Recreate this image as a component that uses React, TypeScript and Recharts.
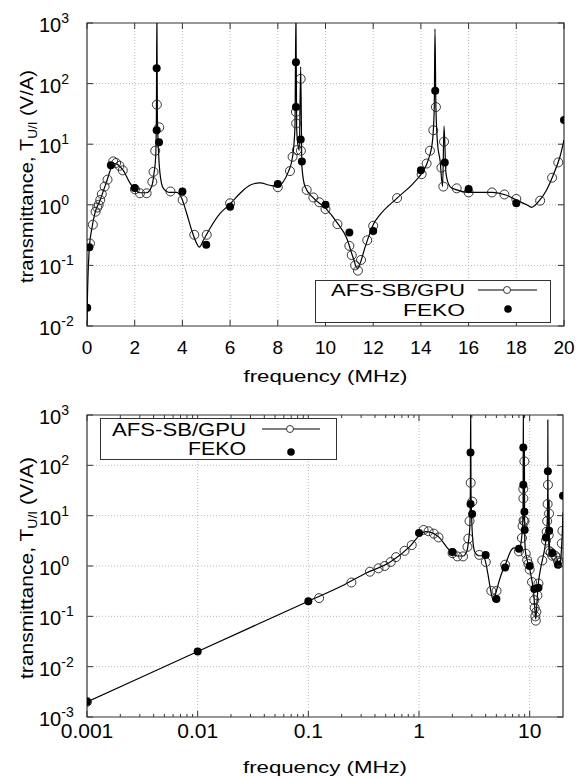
import { ComposedChart, Line, Scatter, XAxis, YAxis, ReferenceLine, ReferenceArea, Legend, Label } from "recharts"

const FONT = "'Liberation Sans', Arial, Helvetica, sans-serif"
const INK = "#000"
const FRAME = "#333"
const GRID = "#b8b8b8"

// AFS-SB/GPU transmittance, the continuous curve (MHz, V/A)
const curveFreq = [
  0.001, 0.01, 0.1, 0.2, 0.33, 0.55, 0.82, 1.03, 1.15, 1.3, 1.52, 1.8, 2.0, 2.22, 2.5, 2.71, 2.81, 2.88,
  2.91, 2.93, 2.95, 2.98, 3.06, 3.2, 3.48, 3.76, 3.97, 4.18, 4.39, 4.6, 4.71, 4.88, 5.16, 5.58, 6.0,
  6.42, 6.83, 7.25, 7.67, 8.0, 8.23, 8.44, 8.62, 8.72, 8.76, 8.79, 8.82, 8.9, 8.96, 9.01, 9.14, 9.49,
  10.0, 10.5, 10.89, 11.17, 11.33, 11.45, 11.66, 12.0, 12.28, 13.0, 13.68, 14.03, 14.31, 14.49, 14.56,
  14.59, 14.63, 14.7, 14.8, 14.91, 14.97, 15.05, 15.22, 15.5, 16.0, 17.0, 17.56, 18.0, 18.44, 18.64,
  18.92, 19.27, 19.55, 19.83, 20.0,
]
const curveT = [
  0.002, 0.02, 0.2, 0.4, 0.72, 1.2, 2.4, 4.2, 4.8, 4.6, 3.7, 2.3, 1.8, 1.58, 1.58, 2.0, 3.3, 6.2,
  30, 1500, 30, 11.7, 3.3, 1.87, 1.6, 1.6, 1.28, 0.72, 0.38, 0.23, 0.2, 0.26, 0.41, 0.72, 1.03,
  1.55, 2.1, 2.3, 2.1, 2.0, 2.4, 3.5, 6.2, 19.5, 1500, 20, 11.7, 7.9, 190, 4.3, 2.0, 1.3,
  0.88, 0.5, 0.28, 0.13, 0.089, 0.108, 0.2, 0.47, 0.68, 1.29, 2.26, 3.3, 5.5, 11.7, 40,
  800, 40, 10, 5.5, 2.0, 20, 3.3, 2.0, 1.76, 1.6, 1.6, 1.45, 1.2, 1.0, 0.91,
  1.12, 1.76, 3.1, 6.2, 11.7,
]

// AFS-SB/GPU sample points (open circles)
const afsFreq = [
  0.001, 0.125, 0.245, 0.36, 0.43, 0.49, 0.555, 0.62, 0.74, 0.86, 1.1, 1.22, 1.36, 1.5, 2.01, 2.22, 2.5,
  2.74, 2.79, 2.86, 2.93, 3.03, 3.5, 4.01, 4.5, 5.02, 6.0, 8.0, 8.51, 8.62, 8.76, 8.77, 8.8, 8.96, 8.97,
  9.21, 9.49, 9.74, 10.0, 10.5, 11.0, 11.1, 11.24, 11.36, 11.49, 11.75, 12.0, 13.0, 14.03, 14.24, 14.38,
  14.52, 14.63, 14.86, 14.94, 14.97, 15.5, 16.0, 16.98, 17.5, 18.0, 19.0, 19.5, 19.76,
]
const afsT = [
  0.002, 0.23, 0.47, 0.77, 0.9, 1.0, 1.2, 1.5, 2.0, 2.6, 5.2, 4.9, 4.4, 3.7, 1.8, 1.55, 1.55,
  2.4, 3.5, 7.8, 45, 19, 1.66, 1.2, 0.32, 0.32, 1.06, 1.95, 3.6, 6.2, 34, 22, 8, 120, 7.8,
  1.76, 1.32, 1.1, 0.85, 0.48, 0.21, 0.148, 0.1, 0.082, 0.123, 0.26, 0.45, 1.29, 3.2, 4.8, 7.8,
  17, 41, 4.1, 2.0, 11, 1.87, 1.6, 1.6, 1.48, 1.25, 1.17, 2.8, 5.0,
]

// FEKO reference points (filled dots)
const fekoFreq = [
  0.001, 0.01, 0.1, 1.0, 2.0, 2.92, 2.921, 3.02, 4.0, 5.0, 6.0, 8.0, 8.76, 8.761, 8.96, 9.01,
  10, 11, 12, 14.0, 14.6, 15.0, 16, 18, 20,
]
const fekoT = [
  0.002, 0.02, 0.2, 4.5, 1.9, 180, 17, 10.8, 1.65, 0.22, 0.93, 2.2, 225, 41, 12, 5.2,
  1.0, 0.35, 0.37, 3.7, 76, 5.0, 1.82, 1.06, 25,
]

const linTicks = [0, 2, 4, 6, 8, 10, 12, 14, 16, 18, 20]
const linLabels = ["0", "2", "4", "6", "8", "10", "12", "14", "16", "18", "20"]
const logTicks = [0.001, 0.01, 0.1, 1, 10]
const logLabels = ["0.001", "0.01", "0.1", "1", "10"]
const logMinor = logTicks
  .flatMap((d) => [2, 3, 4, 5, 6, 7, 8, 9].map((m) => +(m * d).toPrecision(3)))
  .filter((v) => v < 20)
const topYTicks = [0.01, 0.1, 1, 10, 100, 1000]
const bottomYTicks = [0.001, 0.01, 0.1, 1, 10, 100, 1000]

const zip = (fs: number[], ts: number[]) => fs.map((f, i) => ({ f, t: ts[i] }))
const curve = zip(curveFreq, curveT)
const afs = zip(afsFreq, afsT)
const feko = zip(fekoFreq, fekoT)

interface LegendLayout {
  left: number
  top: number
  width: number
  height: number
  textRight: number
  row1: number
  row2: number
  afsLen: number
  fekoLen: number
  font: number
  sampleX1: number
  sampleX2: number
  sampleY: number
  mark: number
  dotY: number
}

interface PanelProps {
  xLog: boolean
  xDomain: [number, number]
  xTicks: number[]
  xMajor: number[]
  xLabels: string[]
  yDomain: [number, number]
  yTicks: number[]
  margin: { top: number; right: number; bottom: number; left: number }
  plotW: number
  plotH: number
  xTickFont: number
  xLabelDy: number
  yTitleLen: number
  legend: LegendLayout
}

const openCircle = (p: any) => (
  <circle cx={p.cx} cy={p.cy} r={4.5} fill="none" stroke="#222" strokeWidth={0.9} />
)
const filledDot = (p: any) => <circle cx={p.cx} cy={p.cy} r={4} fill={INK} />

function LegendBox({ l }: { l: LegendLayout }) {
  return (
    <svg width={l.width} height={l.height} style={{ display: "block" }}>
      <rect x={0.5} y={0.5} width={l.width - 1} height={l.height - 1} fill="#fff" stroke={FRAME} />
      <text x={l.textRight} y={l.row1} textAnchor="end" fontSize={l.font} fontFamily={FONT}
        textLength={l.afsLen} lengthAdjust="spacingAndGlyphs">AFS-SB/GPU</text>
      <text x={l.textRight} y={l.row2} textAnchor="end" fontSize={l.font} fontFamily={FONT}
        textLength={l.fekoLen} lengthAdjust="spacingAndGlyphs">FEKO</text>
      <line x1={l.sampleX1} x2={l.sampleX2} y1={l.sampleY} y2={l.sampleY} stroke={INK} strokeWidth={1.1} />
      <circle cx={l.mark} cy={l.sampleY} r={3.5} fill="#fff" stroke="#222" strokeWidth={0.9} />
      <circle cx={l.mark + 1} cy={l.dotY} r={3.8} fill={INK} />
    </svg>
  )
}

function Panel(p: PanelProps) {
  const xTick = (props: any) => {
    const { x, y, payload } = props
    const i = p.xMajor.indexOf(payload.value)
    const len = i >= 0 ? 6 : 3
    return (
      <g>
        <line x1={x} x2={x} y1={y} y2={y - len} stroke={FRAME} />
        <line x1={x} x2={x} y1={y - p.plotH} y2={y - p.plotH + len} stroke={FRAME} />
        {i >= 0 && (
          <text x={x} y={y + p.xLabelDy} textAnchor="middle" fontSize={p.xTickFont} fontFamily={FONT} fill={INK}>
            {p.xLabels[i]}
          </text>
        )}
      </g>
    )
  }

  const yTick = (props: any) => {
    const { x, y, payload } = props
    const exp = Math.round(Math.log10(payload.value))
    return (
      <g>
        <line x1={x} x2={x + 6} y1={y} y2={y} stroke={FRAME} />
        <line x1={x + p.plotW} x2={x + p.plotW - 6} y1={y} y2={y} stroke={FRAME} />
        <text x={x - 48} y={y + 9} fontSize={20} fontFamily={FONT} fill={INK}>
          10<tspan dy={-9} fontSize={14}>{exp}</tspan>
        </text>
      </g>
    )
  }

  const left = p.margin.left + 60
  const xTitle = () => (
    <text x={left + p.plotW / 2} y={p.margin.top + p.plotH + 56} textAnchor="middle" fontSize={17}
      fontFamily={FONT} fill={INK} textLength={164} lengthAdjust="spacingAndGlyphs">
      frequency (MHz)
    </text>
  )
  const cy = p.margin.top + p.plotH / 2 + 2
  const yTitle = () => (
    <text x={33} y={cy} transform={`rotate(-90, 33, ${cy})`} textAnchor="middle" fontSize={18}
      fontFamily={FONT} fill={INK} textLength={p.yTitleLen} lengthAdjust="spacingAndGlyphs">
      transmittance, T<tspan dy={4} fontSize={12}>U/I</tspan><tspan dy={-4}> (V/A)</tspan>
    </text>
  )

  const inside = (d: { f: number; t: number }) =>
    d.f >= p.xDomain[0] && d.f <= p.xDomain[1] && d.t >= p.yDomain[0] && d.t <= p.yDomain[1]
  const gridX = p.xMajor.filter((v) => v > p.xDomain[0] && v < p.xDomain[1])
  const gridY = p.yTicks.slice(1, -1)

  return (
    <ComposedChart width={582} height={389} margin={p.margin}>
      <XAxis
        dataKey="f"
        type="number"
        scale={p.xLog ? "log" : "linear"}
        domain={p.xDomain}
        allowDataOverflow
        ticks={p.xTicks}
        interval={0}
        tick={xTick}
        tickLine={false}
        axisLine={false}
        tickSize={0}
        tickMargin={0}
        height={40}
      >
        <Label content={xTitle} />
      </XAxis>
      <YAxis
        type="number"
        scale="log"
        domain={p.yDomain}
        allowDataOverflow
        ticks={p.yTicks}
        interval={0}
        tick={yTick}
        tickLine={false}
        axisLine={false}
        tickSize={0}
        tickMargin={0}
        width={60}
      >
        <Label content={yTitle} />
      </YAxis>
      {gridX.map((v) => (
        <ReferenceLine key={`gx${v}`} x={v} stroke={GRID} strokeDasharray="1 2" />
      ))}
      {gridY.map((v) => (
        <ReferenceLine key={`gy${v}`} y={v} stroke={GRID} strokeDasharray="1 2" />
      ))}
      <Line data={curve} dataKey="t" type="monotone" dot={false} stroke={INK} strokeWidth={1.2}
        isAnimationActive={false} legendType="none" />
      <Scatter data={afs.filter(inside)} dataKey="t" shape={openCircle} isAnimationActive={false} legendType="none" />
      <Scatter data={feko.filter(inside)} dataKey="t" shape={filledDot} isAnimationActive={false} legendType="none" />
      <ReferenceArea x1={p.xDomain[0]} x2={p.xDomain[1]} y1={p.yDomain[0]} y2={p.yDomain[1]}
        fill="none" stroke={FRAME} strokeWidth={1.2} />
      <Legend
        layout="vertical"
        align="center"
        verticalAlign="middle"
        content={() => <LegendBox l={p.legend} />}
        wrapperStyle={{ left: p.legend.left, top: p.legend.top, width: p.legend.width, height: p.legend.height, margin: 0 }}
      />
    </ComposedChart>
  )
}

export default function App() {
  return (
    <div style={{ position: "absolute", left: 0, top: 0, width: 582, height: 778, background: "#fff" }}>
      <Panel
        xLog={false}
        xDomain={[0, 20]}
        xTicks={linTicks}
        xMajor={linTicks}
        xLabels={linLabels}
        yDomain={[0.01, 1000]}
        yTicks={topYTicks}
        margin={{ top: 23, right: 18, left: 27, bottom: 23 }}
        plotW={477}
        plotH={303}
        xTickFont={19}
        xLabelDy={28}
        yTitleLen={213}
        legend={{
          left: 315, top: 280, width: 236, height: 43, textRight: 150, row1: 16, row2: 36,
          afsLen: 134, fekoLen: 62, font: 17, sampleX1: 163, sampleX2: 222, sampleY: 10, mark: 192, dotY: 29,
        }}
      />
      <Panel
        xLog={true}
        xDomain={[0.001, 20]}
        xTicks={[...logTicks, ...logMinor].sort((a, b) => a - b)}
        xMajor={logTicks}
        xLabels={logLabels}
        yDomain={[0.001, 1000]}
        yTicks={bottomYTicks}
        margin={{ top: 26, right: 19, left: 27, bottom: 21 }}
        plotW={476}
        plotH={302}
        xTickFont={21}
        xLabelDy={21}
        yTitleLen={222}
        legend={{
          left: 100, top: 29, width: 237, height: 42, textRight: 146, row1: 18, row2: 37,
          afsLen: 134, fekoLen: 58, font: 19, sampleX1: 162, sampleX2: 220, sampleY: 11, mark: 190, dotY: 34,
        }}
      />
    </div>
  )
}
